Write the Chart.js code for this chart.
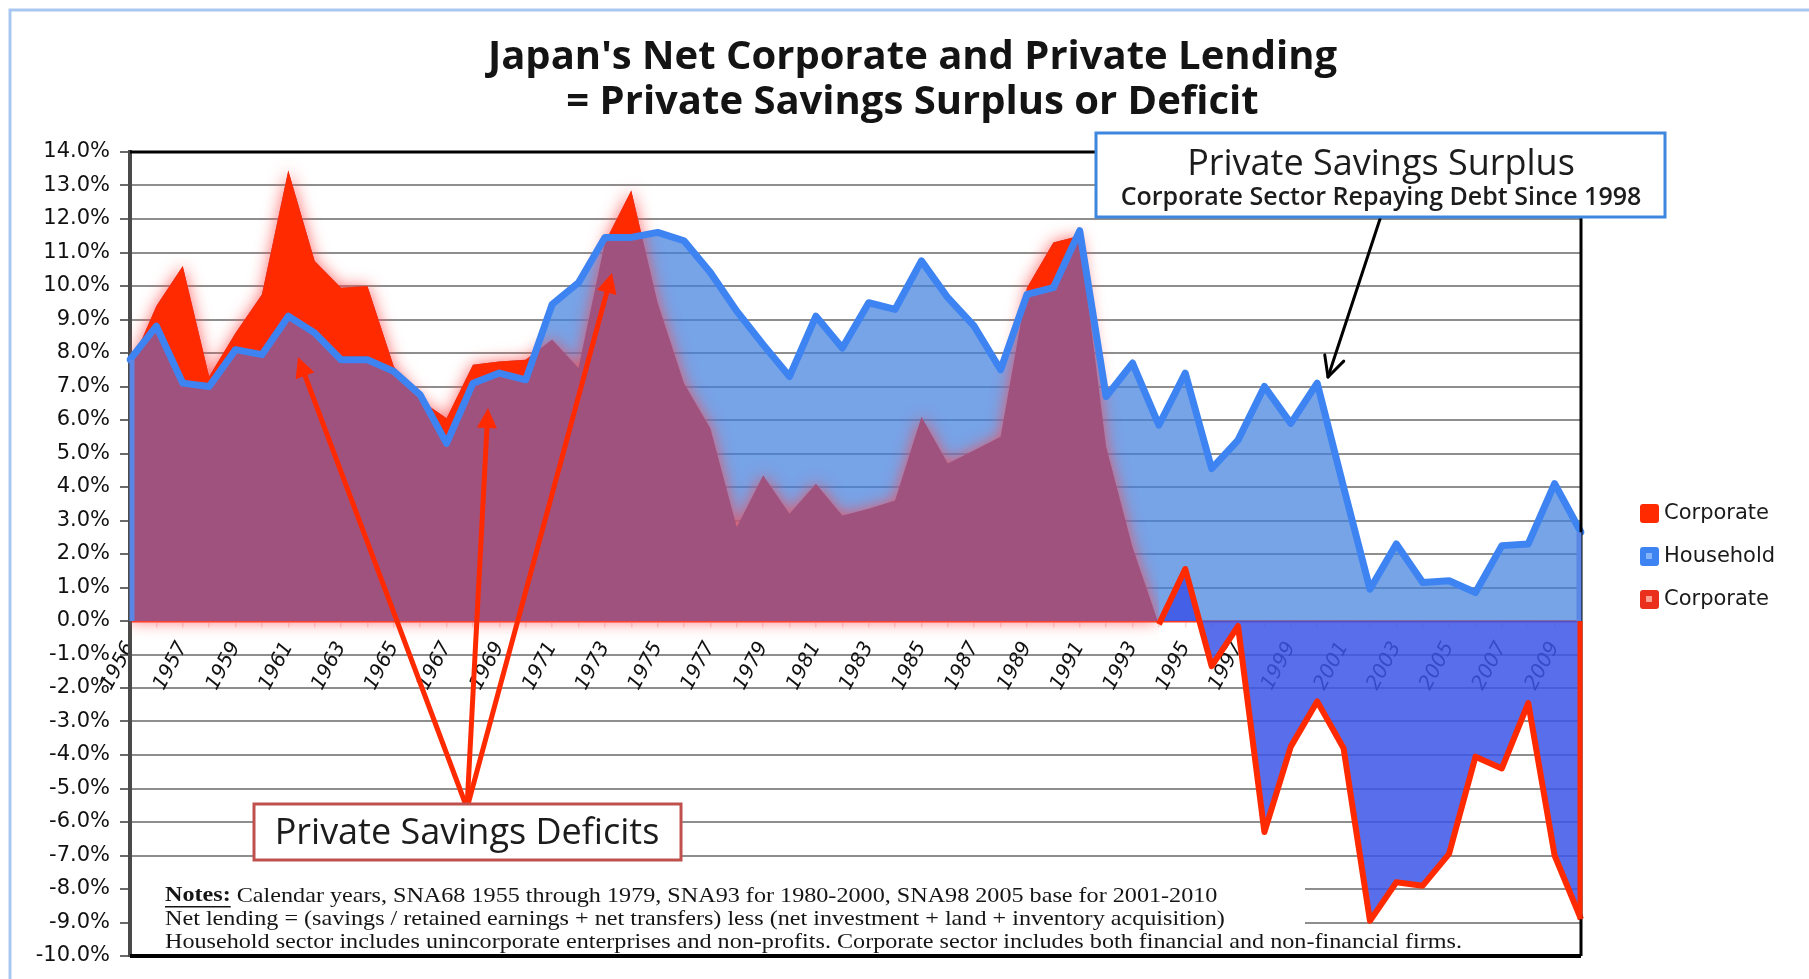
<!DOCTYPE html>
<html>
<head>
<meta charset="utf-8">
<title>Japan's Net Corporate and Private Lending</title>
<script src="https://cdn.jsdelivr.net/npm/chart.js@4.4.1/dist/chart.umd.min.js"></script>
<style>
  html, body { margin: 0; padding: 0; background: #fff; }
  #wrap { position: relative; width: 1809px; height: 979px; }
</style>
</head>
<body>
<div id="wrap"><canvas id="lendingChart" width="1809" height="979"></canvas></div>
<script>
// Net lending by sector, % of GDP (1955-2010)
const years = [1955, 1956, 1957, 1958, 1959, 1960, 1961, 1962, 1963, 1964,
  1965, 1966, 1967, 1968, 1969, 1970, 1971, 1972, 1973, 1974,
  1975, 1976, 1977, 1978, 1979, 1980, 1981, 1982, 1983, 1984,
  1985, 1986, 1987, 1988, 1989, 1990, 1991, 1992, 1993, 1994,
  1995, 1996, 1997, 1998, 1999, 2000, 2001, 2002, 2003, 2004,
  2005, 2006, 2007, 2008, 2009, 2010];

// the source chart labels its first category "1956"
const xTickLabels = ['1956', '', '1957', '', '1959', '', '1961', '', '1963', '',
  '1965', '', '1967', '', '1969', '', '1971', '', '1973', '',
  '1975', '', '1977', '', '1979', '', '1981', '', '1983', '',
  '1985', '', '1987', '', '1989', '', '1991', '', '1993', '',
  '1995', '', '1997', '', '1999', '', '2001', '', '2003', '',
  '2005', '', '2007', '', '2009', ''];

const household = [7.8, 8.8, 7.1, 7.0, 8.1, 7.95, 9.1, 8.6, 7.8, 7.8,
  7.45, 6.75, 5.3, 7.1, 7.4, 7.2, 9.45, 10.1, 11.45, 11.45,
  11.6, 11.35, 10.4, 9.25, 8.25, 7.3, 9.1, 8.15, 9.5, 9.3,
  10.75, 9.65, 8.8, 7.5, 9.75, 9.95, 11.65, 6.7, 7.7, 5.85,
  7.4, 4.55, 5.4, 7.0, 5.9, 7.1, 4.0, 0.95, 2.3, 1.15,
  1.2, 0.85, 2.25, 2.3, 4.1, 2.65];

const corporate = [7.6, 9.4, 10.6, 7.3, 8.6, 9.75, 13.45, 10.75, 9.95, 10.0,
  7.6, 6.6, 6.05, 7.65, 7.75, 7.8, 8.4, 7.55, 11.3, 12.85,
  9.5, 7.1, 5.75, 2.8, 4.35, 3.2, 4.1, 3.15, 3.35, 3.6,
  6.1, 4.7, 5.1, 5.5, 9.95, 11.3, 11.5, 5.2, 2.2, -0.1,
  1.55, -1.35, -0.15, -6.3, -3.75, -2.4, -3.8, -8.95, -7.8, -7.9,
  -6.95, -4.05, -4.4, -2.45, -7.0, -8.9];

const legendLabels = ['Corporate', 'Household', 'Corporate'];

const RED = '#ff2a00';
const BLUE = '#3d84f2';
const PURPLE = '#a0527f';
const LIGHT_BLUE = 'rgba(66, 128, 222, 0.72)';
const DEEP_BLUE = 'rgba(60, 85, 230, 0.85)';
const CLEAR = 'rgba(0,0,0,0)';

// corporate drawn as an area until 1994, as a line afterwards
const switchIdx = years.indexOf(1994);
const corpArea = corporate.map((v, i) => (i <= switchIdx ? v : null));
const corpLine = corporate.map((v, i) => (i >= switchIdx ? v : null));

function drawArrow(ctx, x1, y1, x2, y2, o) {
  const a = Math.atan2(y2 - y1, x2 - x1);
  const cos = Math.cos(a), sin = Math.sin(a);
  ctx.save();
  ctx.strokeStyle = o.color;
  ctx.fillStyle = o.color;
  ctx.lineWidth = o.width;
  ctx.lineCap = 'round';
  ctx.lineJoin = 'round';
  const stop = o.open ? 0 : o.head * 0.8;
  ctx.beginPath();
  ctx.moveTo(x1, y1);
  ctx.lineTo(x2 - cos * stop, y2 - sin * stop);
  ctx.stroke();
  const bx = x2 - cos * o.head, by = y2 - sin * o.head;
  const lx = bx + sin * o.half, ly = by - cos * o.half;
  const rx = bx - sin * o.half, ry = by + cos * o.half;
  ctx.beginPath();
  if (o.open) {
    ctx.moveTo(lx, ly); ctx.lineTo(x2, y2); ctx.lineTo(rx, ry);
    ctx.stroke();
  } else {
    ctx.moveTo(x2, y2); ctx.lineTo(lx, ly); ctx.lineTo(rx, ry);
    ctx.closePath();
    ctx.fill();
  }
  ctx.restore();
}

// text stretched a little wider, like the scanned original
function wideText(ctx, text, x, y, sx) {
  ctx.save();
  ctx.translate(x, y);
  ctx.scale(sx, 1);
  ctx.fillText(text, 0, 0);
  ctx.restore();
  return ctx.measureText(text).width * sx;
}

const decor = {
  id: 'decor',
  beforeDatasetsDraw(chart) {
    // white panel behind the notes hides the lower grid lines
    const { ctx, chartArea, scales } = chart;
    const top = scales.y.getPixelForValue(-7.55);
    ctx.save();
    ctx.fillStyle = '#fff';
    ctx.fillRect(chartArea.left + 2, top, 1305 - chartArea.left - 2, chartArea.bottom - top - 2);
    ctx.restore();
  },
  afterDatasetDraw(chart, args) {
    // glow under the corporate area
    if (args.index === 1) {
      chart.ctx.shadowColor = 'rgba(255, 70, 70, 0.8)';
      chart.ctx.shadowBlur = 16;
    }
  },
  beforeDatasetDraw(chart, args) {
    if (args.index === 0) {
      chart.ctx.shadowColor = CLEAR;
      chart.ctx.shadowBlur = 0;
    }
  },
  afterDatasetsDraw(chart) {
    const { ctx, chartArea: a, scales } = chart;
    const y = scales.y, x = scales.x;
    ctx.save();
    ctx.shadowColor = CLEAR;
    ctx.shadowBlur = 0;
    ctx.strokeStyle = '#000';
    ctx.lineWidth = 3;
    ctx.beginPath();
    ctx.moveTo(a.left, a.top); ctx.lineTo(a.right, a.top); ctx.lineTo(a.right, a.bottom);
    ctx.stroke();
    ctx.lineWidth = 4;
    ctx.beginPath();
    ctx.moveTo(a.left, a.bottom); ctx.lineTo(a.right, a.bottom);
    ctx.stroke();
    // area outlines on the end edges
    const y0 = y.getPixelForValue(0);
    const last = years.length - 1;
    ctx.lineWidth = 5;
    ctx.strokeStyle = '#5a86e6';
    ctx.beginPath();
    ctx.moveTo(x.getPixelForValue(0) + 2, y0); ctx.lineTo(x.getPixelForValue(0) + 2, y.getPixelForValue(household[0]));
    ctx.moveTo(x.getPixelForValue(last) - 2, y0); ctx.lineTo(x.getPixelForValue(last) - 2, y.getPixelForValue(household[last]));
    ctx.stroke();
    ctx.strokeStyle = RED;
    ctx.beginPath();
    ctx.moveTo(x.getPixelForValue(last) - 1, y0); ctx.lineTo(x.getPixelForValue(last) - 1, y.getPixelForValue(corporate[last]));
    ctx.stroke();
    ctx.restore();
  },
  afterDraw(chart) {
    const ctx = chart.ctx;
    ctx.save();
    ctx.shadowColor = CLEAR;
    ctx.shadowBlur = 0;

    // page frame
    ctx.strokeStyle = '#a9c8ef';
    ctx.lineWidth = 3;
    ctx.beginPath();
    ctx.moveTo(10, 979); ctx.lineTo(10, 10); ctx.lineTo(1809, 10);
    ctx.stroke();

    // surplus call-out
    drawArrow(ctx, 1380, 219, 1328, 377, { color: '#000', width: 3, head: 20, half: 10, open: true });
    ctx.fillStyle = '#fff';
    ctx.fillRect(1096, 133, 569, 84);
    ctx.strokeStyle = '#3f86de';
    ctx.lineWidth = 3;
    ctx.strokeRect(1096, 133, 569, 84);
    ctx.fillStyle = '#1c1c1c';
    ctx.textAlign = 'center';
    ctx.textBaseline = 'middle';
    ctx.font = '36px "Open Sans"';
    ctx.fillText('Private Savings Surplus', 1381, 165);
    ctx.font = '600 25px "Open Sans"';
    ctx.fillText('Corporate Sector Repaying Debt Since 1998', 1381, 198);

    // deficit call-out
    const apex = [467, 808];
    [[298, 357], [488, 408], [612, 273]].forEach(p => {
      drawArrow(ctx, apex[0], apex[1], p[0], p[1], { color: RED, width: 5, head: 20, half: 10, open: false });
    });
    ctx.fillStyle = '#fff';
    ctx.fillRect(254, 804, 427, 56);
    ctx.strokeStyle = '#c0504d';
    ctx.lineWidth = 3;
    ctx.strokeRect(254, 804, 427, 56);
    ctx.fillStyle = '#1c1c1c';
    ctx.font = '36px "Open Sans"';
    ctx.fillText('Private Savings Deficits', 467, 834);

    // notes
    ctx.textAlign = 'left';
    ctx.fillStyle = '#151515';
    const sx = 1.15;
    ctx.font = 'bold 21px "Liberation Serif"';
    const tw = wideText(ctx, 'Notes:', 165, 896, sx);
    ctx.fillRect(165, 906, tw, 1.5);
    ctx.font = '21px "Liberation Serif"';
    wideText(ctx, ' Calendar years, SNA68 1955 through 1979, SNA93 for 1980-2000, SNA98 2005 base for 2001-2010', 165 + tw, 896, sx);
    wideText(ctx, 'Net lending = (savings / retained earnings + net transfers) less (net investment + land + inventory acquisition)', 165, 919, sx);
    wideText(ctx, 'Household sector includes unincorporate enterprises and non-profits. Corporate sector includes both financial and non-financial firms.', 165, 942, sx);

    // legend
    const keys = [
      { fill: RED, dot: null },
      { fill: BLUE, dot: '#86b4fb' },
      { fill: '#ea2f1c', dot: '#ff9f92' }
    ];
    ctx.font = '21px "DejaVu Sans"';
    keys.forEach((k, i) => {
      const cy = 513 + i * 43;
      ctx.fillStyle = k.fill;
      ctx.beginPath();
      ctx.roundRect(1640, cy - 9, 19, 19, 3);
      ctx.fill();
      if (k.dot) {
        ctx.fillStyle = k.dot;
        ctx.fillRect(1646, cy - 3, 6, 6);
      }
      ctx.fillStyle = '#1a1a1a';
      ctx.fillText(legendLabels[i], 1664, cy + 1);
    });
    ctx.restore();
  }
};

const ctx = document.getElementById('lendingChart').getContext('2d');
const lendingChart = new Chart(ctx, {
  type: 'line',
  data: {
    labels: years,
    datasets: [
      { label: legendLabels[0], data: corpArea, order: 4, borderColor: CLEAR, borderWidth: 0,
        backgroundColor: PURPLE, fill: 'origin', pointRadius: 0 },
      { label: 'Household area', data: household, order: 5, borderColor: CLEAR, borderWidth: 0,
        backgroundColor: LIGHT_BLUE, fill: 'origin', pointRadius: 0 },
      { label: 'Corporate excess', data: corpArea, order: 3, borderColor: CLEAR, borderWidth: 0,
        backgroundColor: RED, fill: { target: 1, above: RED, below: CLEAR }, pointRadius: 0 },
      { label: legendLabels[1], data: household, order: 2, borderColor: BLUE, borderWidth: 7,
        borderJoinStyle: 'round', borderCapStyle: 'round', fill: false, pointRadius: 0 },
      { label: legendLabels[2], data: corpLine, order: 1, borderColor: RED, borderWidth: 6,
        borderJoinStyle: 'round', backgroundColor: DEEP_BLUE, fill: 'origin', pointRadius: 0 }
    ]
  },
  options: {
    responsive: false,
    animation: false,
    devicePixelRatio: 1,
    layout: { padding: { left: 16, right: 0, top: 0, bottom: 23 } },
    elements: { line: { tension: 0 }, point: { radius: 0 } },
    plugins: {
      legend: { display: false },
      tooltip: { enabled: false },
      title: {
        display: true,
        text: ["Japan's Net Corporate and Private Lending", '= Private Savings Surplus or Deficit'],
        color: '#141414',
        font: { family: 'Open Sans', size: 40, weight: 'bold', lineHeight: 45 / 40 },
        padding: { top: 35, bottom: 27 }
      }
    },
    scales: {
      x: {
        type: 'category',
        position: { y: 0 },
        offset: false,
        z: 1,
        grid: { drawOnChartArea: false, drawTicks: true, tickLength: 5, color: 'rgba(255,215,215,0.95)', lineWidth: 1.5 },
        border: { display: true, color: '#ff3b1f', width: 2.5 },
        ticks: {
          autoSkip: false,
          minRotation: 62,
          maxRotation: 62,
          padding: 12,
          color: '#111',
          font: { family: 'DejaVu Sans', size: 20, style: 'italic' },
          callback: (value, index) => xTickLabels[index]
        }
      },
      y: {
        min: -10,
        max: 14,
        afterFit: s => { s.width = 114; },
        ticks: {
          stepSize: 1,
          padding: 10,
          color: '#111',
          font: { family: 'DejaVu Sans', size: 21 },
          callback: v => v.toFixed(1) + '%'
        },
        grid: {
          color: c => (c.tick && c.tick.value === 0 ? '#ff3b1f' : '#8e8e8e'),
          lineWidth: 2,
          tickLength: 10,
          tickColor: '#6a6a6a'
        },
        border: { display: true, color: '#4a4a4a', width: 4 }
      },
      // empty right-hand gutter that holds the legend
      gutter: {
        type: 'linear',
        position: 'right',
        min: -10,
        max: 14,
        afterFit: s => { s.width = 228; },
        grid: { drawOnChartArea: false, drawTicks: false },
        border: { display: false },
        ticks: { display: false }
      }
    }
  },
  plugins: [decor]
});
</script>
</body>
</html>
